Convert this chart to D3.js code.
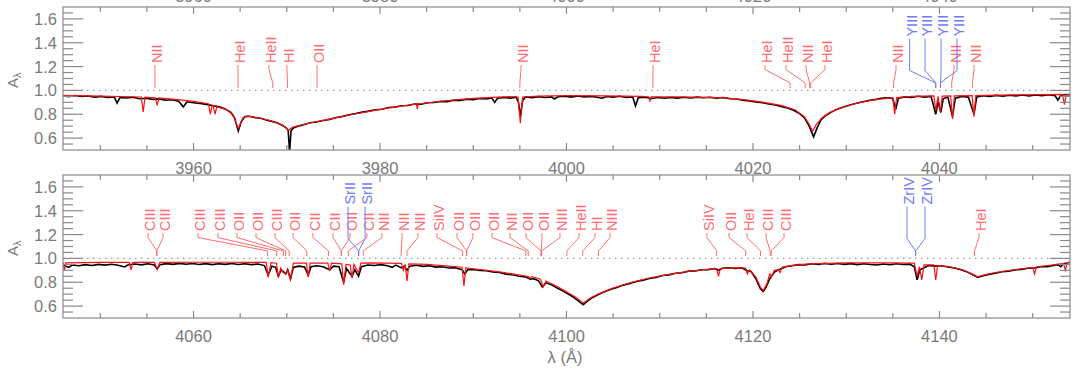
<!DOCTYPE html>
<html>
<head>
<meta charset="utf-8">
<script src="https://cdn.jsdelivr.net/npm/d3@7"></script>
<style>
body { margin: 0; background: #fff; }
svg { display: block; font-family: "Liberation Sans", Arial, sans-serif; }
</style>
</head>
<body>
<svg id="chart" width="1077" height="369"></svg>
<script>
// wavelength ranges and tick labels of the two panels
var topDomain = [3946, 4054]
var botDomain = [4046, 4154]
var topTicks = [3960, 3980, 4000, 4020, 4040]
var botTicks = [4060, 4080, 4100, 4120, 4140]
var yTicks = [0.6, 0.8, 1.0, 1.2, 1.4, 1.6]

// observed spectrum (black), [lambda, A]
var topObs = [[3946.0,0.955],[3946.6,0.948],[3947.3,0.957],[3948.0,0.950],[3948.7,0.953],[3949.4,0.944],[3950.1,0.950],[3950.8,0.941],[3951.5,0.945],[3951.8,0.893],[3952.1,0.940],[3952.8,0.936],[3953.5,0.942],[3954.2,0.930],[3954.9,0.934],[3955.6,0.925],[3956.3,0.929],[3957.0,0.918],[3957.7,0.922],[3958.4,0.910],[3958.9,0.862],[3959.3,0.905],[3960.0,0.897],[3960.7,0.890],[3961.4,0.883],[3962.1,0.872],[3962.8,0.862],[3963.4,0.845],[3964.0,0.815],[3964.4,0.770],[3964.8,0.660],[3965.1,0.735],[3965.5,0.780],[3966.0,0.783],[3966.6,0.772],[3967.2,0.766],[3967.8,0.752],[3968.4,0.740],[3969.0,0.727],[3969.5,0.708],[3969.9,0.688],[3970.15,0.665],[3970.3,0.480],[3970.45,0.660],[3970.7,0.685],[3971.2,0.700],[3971.8,0.712],[3972.5,0.728],[3973.2,0.735],[3973.9,0.748],[3974.6,0.757],[3975.3,0.772],[3976.0,0.782],[3976.7,0.796],[3977.4,0.806],[3978.1,0.818],[3978.8,0.826],[3979.5,0.838],[3980.2,0.842],[3980.9,0.856],[3981.6,0.860],[3982.3,0.871],[3983.0,0.874],[3983.7,0.886],[3984.4,0.884],[3985.1,0.897],[3985.8,0.898],[3986.5,0.908],[3987.2,0.905],[3987.9,0.918],[3988.6,0.916],[3989.3,0.926],[3990.0,0.922],[3990.7,0.932],[3991.4,0.928],[3992.0,0.936],[3992.3,0.900],[3992.6,0.934],[3993.3,0.940],[3994.0,0.935],[3994.6,0.944],[3994.85,0.900],[3995.05,0.785],[3995.3,0.915],[3995.6,0.945],[3996.3,0.938],[3997.0,0.948],[3997.7,0.941],[3998.4,0.946],[3998.7,0.928],[3999.1,0.947],[3999.8,0.951],[4000.5,0.944],[4001.2,0.953],[4001.9,0.946],[4002.6,0.950],[4003.3,0.943],[4003.8,0.934],[4004.3,0.949],[4005.0,0.944],[4005.7,0.951],[4006.4,0.942],[4007.1,0.946],[4007.4,0.870],[4007.7,0.938],[4008.4,0.943],[4009.1,0.932],[4009.8,0.940],[4010.5,0.934],[4011.2,0.941],[4011.9,0.935],[4012.6,0.942],[4013.3,0.937],[4014.0,0.944],[4014.7,0.938],[4015.4,0.943],[4016.1,0.935],[4016.8,0.940],[4017.5,0.930],[4018.2,0.928],[4018.9,0.918],[4019.6,0.912],[4020.3,0.904],[4021.0,0.897],[4021.7,0.886],[4022.4,0.878],[4023.1,0.864],[4023.8,0.850],[4024.4,0.832],[4025.0,0.806],[4025.5,0.772],[4026.0,0.705],[4026.5,0.610],[4026.9,0.690],[4027.3,0.752],[4027.8,0.790],[4028.4,0.818],[4029.0,0.842],[4029.7,0.860],[4030.4,0.878],[4031.1,0.893],[4031.8,0.905],[4032.5,0.918],[4033.2,0.925],[4033.9,0.936],[4034.6,0.938],[4035.0,0.930],[4035.3,0.840],[4035.6,0.935],[4036.3,0.946],[4037.0,0.942],[4037.7,0.951],[4038.4,0.944],[4039.1,0.950],[4039.6,0.800],[4039.85,0.905],[4040.15,0.815],[4040.4,0.930],[4040.9,0.945],[4041.4,0.780],[4041.7,0.935],[4042.4,0.950],[4043.1,0.944],[4043.7,0.800],[4044.0,0.945],[4044.7,0.955],[4045.4,0.950],[4046.1,0.958],[4046.8,0.952],[4047.5,0.960],[4048.2,0.954],[4048.9,0.961],[4049.6,0.953],[4050.3,0.962],[4051.0,0.956],[4051.7,0.963],[4052.4,0.955],[4052.7,0.918],[4053.0,0.958],[4053.5,0.966],[4054.0,0.962]]
var botObs = [[4046.0,0.955],[4046.3,0.935],[4046.6,0.925],[4047.0,0.945],[4047.7,0.938],[4048.4,0.948],[4049.1,0.941],[4049.8,0.950],[4050.5,0.944],[4051.2,0.951],[4051.9,0.943],[4052.6,0.928],[4053.0,0.947],[4053.7,0.953],[4054.4,0.946],[4055.1,0.955],[4055.8,0.945],[4056.1,0.910],[4056.4,0.948],[4057.1,0.956],[4057.8,0.950],[4058.5,0.958],[4059.2,0.951],[4059.9,0.957],[4060.6,0.949],[4061.3,0.956],[4062.0,0.948],[4062.7,0.955],[4063.4,0.950],[4064.1,0.957],[4064.8,0.949],[4065.5,0.955],[4066.2,0.948],[4066.9,0.953],[4067.6,0.940],[4068.0,0.860],[4068.4,0.935],[4068.8,0.925],[4069.1,0.850],[4069.4,0.905],[4069.9,0.870],[4070.1,0.905],[4070.4,0.830],[4070.7,0.925],[4071.3,0.935],[4071.9,0.928],[4072.3,0.860],[4072.6,0.930],[4073.2,0.938],[4073.9,0.930],[4074.6,0.905],[4075.0,0.935],[4075.6,0.930],[4076.1,0.800],[4076.4,0.915],[4077.0,0.850],[4077.3,0.905],[4077.7,0.850],[4078.0,0.930],[4078.7,0.945],[4079.4,0.940],[4080.1,0.948],[4080.8,0.938],[4081.3,0.925],[4081.7,0.944],[4082.3,0.920],[4082.6,0.935],[4082.9,0.900],[4083.2,0.935],[4083.9,0.942],[4084.6,0.933],[4085.3,0.938],[4086.0,0.927],[4086.7,0.930],[4087.4,0.920],[4088.1,0.922],[4088.8,0.905],[4089.1,0.870],[4089.4,0.905],[4090.0,0.907],[4090.7,0.898],[4091.4,0.897],[4092.1,0.886],[4092.8,0.882],[4093.5,0.868],[4094.2,0.863],[4094.9,0.850],[4095.6,0.845],[4096.1,0.825],[4096.5,0.830],[4097.0,0.812],[4097.4,0.760],[4097.8,0.795],[4098.4,0.778],[4099.0,0.752],[4099.6,0.728],[4100.2,0.700],[4100.8,0.672],[4101.3,0.642],[4101.8,0.612],[4102.2,0.640],[4102.7,0.668],[4103.3,0.692],[4104.0,0.718],[4104.7,0.740],[4105.4,0.757],[4106.1,0.776],[4106.8,0.790],[4107.5,0.806],[4108.2,0.818],[4108.9,0.832],[4109.6,0.840],[4110.3,0.856],[4111.0,0.862],[4111.7,0.876],[4112.4,0.880],[4113.1,0.893],[4113.8,0.895],[4114.5,0.905],[4115.2,0.906],[4115.9,0.915],[4116.3,0.900],[4116.7,0.918],[4117.4,0.922],[4118.1,0.916],[4118.8,0.921],[4119.4,0.895],[4119.8,0.890],[4120.3,0.830],[4120.8,0.745],[4121.1,0.722],[4121.4,0.760],[4121.8,0.830],[4122.3,0.885],[4122.9,0.910],[4123.5,0.930],[4124.2,0.938],[4124.9,0.948],[4125.6,0.946],[4126.3,0.955],[4127.0,0.950],[4127.7,0.958],[4128.4,0.951],[4129.1,0.957],[4129.8,0.950],[4130.5,0.956],[4131.2,0.948],[4131.9,0.955],[4132.6,0.949],[4133.3,0.945],[4134.0,0.953],[4134.7,0.947],[4135.4,0.955],[4136.1,0.949],[4136.8,0.952],[4137.3,0.930],[4137.6,0.820],[4137.9,0.905],[4138.3,0.920],[4138.8,0.940],[4139.5,0.935],[4140.2,0.938],[4140.9,0.928],[4141.6,0.920],[4142.3,0.905],[4143.0,0.885],[4143.6,0.862],[4144.1,0.840],[4144.6,0.852],[4145.3,0.866],[4146.0,0.875],[4146.7,0.888],[4147.4,0.893],[4148.1,0.904],[4148.8,0.908],[4149.5,0.918],[4150.2,0.920],[4150.9,0.931],[4151.6,0.930],[4152.3,0.942],[4152.7,0.948],[4153.0,0.930],[4153.3,0.955],[4153.7,0.962],[4154.0,0.968]]

// model spectrum (red), [lambda, A]
var topMod = [[3946.0,0.958],[3950.0,0.952],[3954.4,0.945],[3954.6,0.820],[3954.8,0.944],[3955.9,0.938],[3956.1,0.875],[3956.3,0.937],[3958.0,0.925],[3960.0,0.908],[3961.6,0.888],[3961.8,0.800],[3962.0,0.875],[3962.1,0.875],[3962.3,0.800],[3962.5,0.862],[3963.5,0.840],[3964.2,0.800],[3964.8,0.680],[3965.3,0.770],[3965.8,0.785],[3967.0,0.770],[3968.0,0.752],[3969.0,0.728],[3969.8,0.695],[3970.2,0.665],[3970.6,0.690],[3971.5,0.710],[3973.0,0.735],[3975.0,0.765],[3977.0,0.798],[3979.0,0.826],[3981.0,0.853],[3983.0,0.876],[3983.9,0.885],[3984.0,0.845],[3984.1,0.886],[3986.0,0.905],[3988.0,0.920],[3990.0,0.933],[3992.0,0.942],[3994.0,0.948],[3994.8,0.945],[3995.05,0.725],[3995.3,0.945],[3997.0,0.952],[4000.0,0.956],[4004.0,0.955],[4008.0,0.950],[4008.8,0.947],[4008.95,0.912],[4009.1,0.946],[4012.0,0.945],[4015.0,0.942],[4017.0,0.937],[4019.0,0.922],[4021.0,0.902],[4023.0,0.874],[4024.5,0.838],[4025.5,0.780],[4026.0,0.720],[4026.4,0.660],[4026.8,0.715],[4027.4,0.770],[4028.3,0.818],[4029.5,0.855],[4031.0,0.890],[4033.0,0.920],[4035.0,0.940],[4035.2,0.800],[4035.4,0.940],[4037.0,0.950],[4039.4,0.955],[4039.6,0.830],[4039.85,0.950],[4040.1,0.820],[4040.3,0.952],[4041.2,0.955],[4041.4,0.760],[4041.6,0.955],[4043.5,0.957],[4043.7,0.780],[4043.9,0.957],[4048.0,0.962],[4051.0,0.965],[4053.2,0.967],[4053.4,0.880],[4053.6,0.967],[4054.0,0.968]]
var botMod = [[4046.0,0.965],[4046.15,0.900],[4046.3,0.962],[4050.0,0.966],[4053.1,0.966],[4053.3,0.905],[4053.5,0.966],[4055.8,0.966],[4056.1,0.912],[4056.4,0.966],[4060.0,0.968],[4064.0,0.968],[4067.8,0.967],[4068.0,0.840],[4068.3,0.965],[4068.9,0.960],[4069.1,0.840],[4069.35,0.920],[4069.6,0.880],[4069.9,0.875],[4070.1,0.900],[4070.4,0.815],[4070.7,0.960],[4072.1,0.960],[4072.3,0.840],[4072.5,0.960],[4074.4,0.960],[4074.6,0.895],[4074.8,0.960],[4075.9,0.955],[4076.1,0.780],[4076.35,0.950],[4076.8,0.945],[4077.0,0.835],[4077.2,0.950],[4077.7,0.880],[4077.95,0.960],[4079.0,0.962],[4082.3,0.958],[4082.5,0.900],[4082.7,0.950],[4082.9,0.810],[4083.1,0.955],[4085.0,0.950],[4087.0,0.938],[4088.8,0.926],[4089.0,0.770],[4089.2,0.920],[4091.0,0.905],[4093.0,0.885],[4095.0,0.860],[4095.9,0.848],[4096.1,0.835],[4096.3,0.846],[4097.2,0.825],[4097.5,0.760],[4097.8,0.810],[4099.0,0.765],[4100.0,0.720],[4101.0,0.675],[4101.8,0.625],[4102.6,0.670],[4103.5,0.705],[4105.0,0.752],[4107.0,0.800],[4109.0,0.838],[4111.0,0.866],[4113.0,0.890],[4115.0,0.908],[4116.1,0.914],[4116.3,0.850],[4116.5,0.915],[4118.5,0.922],[4119.2,0.918],[4119.4,0.870],[4119.6,0.905],[4120.3,0.845],[4120.8,0.760],[4121.1,0.730],[4121.5,0.790],[4121.8,0.870],[4122.0,0.850],[4122.3,0.900],[4122.7,0.905],[4122.9,0.880],[4123.1,0.925],[4124.0,0.940],[4126.0,0.955],[4130.0,0.962],[4134.0,0.963],[4137.3,0.960],[4137.6,0.850],[4137.85,0.930],[4138.1,0.820],[4138.35,0.945],[4139.4,0.945],[4139.6,0.820],[4139.8,0.940],[4141.0,0.932],[4142.5,0.905],[4143.5,0.872],[4144.1,0.845],[4144.8,0.862],[4146.0,0.882],[4148.0,0.905],[4150.0,0.925],[4150.2,0.870],[4150.4,0.928],[4152.0,0.945],[4153.3,0.958],[4153.5,0.900],[4153.7,0.962],[4154.0,0.970]]

// line identifications: [ion, label lambda, line lambda, colour r/b]
var topLabels = [["NII",3955.87,3955.87,"r"],["HeI",3964.77,3964.77,"r"],["HeII",3968.09,3968.5,"r"],["HI",3970.02,3970.07,"r"],["OII",3973.24,3973.24,"r"],["NII",3995.12,3995.0,"r"],["HeI",4009.28,4009.26,"r"],["HeI",4021.29,4023.98,"r"],["HeII",4023.54,4025.6,"r"],["NII",4025.69,4026.08,"r"],["HeI",4027.72,4026.19,"r"],["NII",4035.34,4035.08,"r"],["NII",4041.56,4041.31,"r"],["NII",4043.71,4043.53,"r"],["YIII",4036.8,4039.6,"b"],["YIII",4038.45,4039.6,"b"],["YIII",4040.17,4040.11,"b"],["YIII",4041.88,4040.11,"b"]]
var botLabels = [["CIII",4055.12,4056.06,"r"],["CIII",4056.73,4056.06,"r"],["CIII",4060.48,4067.94,"r"],["CIII",4062.62,4068.92,"r"],["OII",4064.66,4069.62,"r"],["OII",4066.70,4069.88,"r"],["CIII",4068.74,4070.26,"r"],["OII",4070.67,4072.15,"r"],["CII",4072.81,4074.48,"r"],["CII",4074.96,4075.85,"r"],["OII",4076.78,4075.86,"r"],["CII",4078.6,4076.6,"r"],["NII",4080.2,4078.2,"r"],["NII",4082.36,4082.27,"r"],["NII",4084.07,4082.89,"r"],["SiIV",4086.11,4088.86,"r"],["OII",4088.26,4089.29,"r"],["OII",4089.97,4089.29,"r"],["OII",4092.01,4095.64,"r"],["NII",4093.94,4095.9,"r"],["OII",4095.66,4097.26,"r"],["OII",4097.37,4097.3,"r"],["NIII",4099.3,4097.33,"r"],["HeII",4101.34,4100.04,"r"],["HI",4103.06,4101.74,"r"],["NIII",4104.67,4103.43,"r"],["SiIV",4115.07,4116.10,"r"],["OII",4117.43,4119.22,"r"],["HeI",4119.36,4120.81,"r"],["CIII",4121.40,4121.85,"r"],["CIII",4123.33,4121.95,"r"],["HeI",4144.24,4143.76,"r"],["SrII",4076.57,4077.71,"b"],["SrII",4078.4,4077.71,"b"],["ZrIV",4136.52,4137.44,"b"],["ZrIV",4138.45,4137.44,"b"]]

var width = 1077, height = 369
var margin = {left: 63, right: 7}
var axisCol = "#8a8a8a", textCol = "#7a7a7a"
var redLab = "#ff6e6e", blueLab = "#6e7cff"
// connector heights in units of A
var lay = {redText: 1.23, redKnee1: 1.175, blueText: 1.452, blueKnee1: 1.167, knee2: 1.063, end: 1.02}

var svg = d3.select("#chart")

var panels = [
    {top: 7, bottom: 150, domain: topDomain, ticks: topTicks, obs: topObs, mod: topMod, labels: topLabels},
    {top: 175, bottom: 318, domain: botDomain, ticks: botTicks, obs: botObs, mod: botMod, labels: botLabels}
]

panels.forEach(function(p, i) {
    var x = d3.scaleLinear().domain(p.domain).range([margin.left, width - margin.right])
    var y = d3.scaleLinear().domain([0.5, 1.7]).range([p.bottom, p.top])
    var g = svg.append("g")

    g.append("clipPath").attr("id", "clip" + i)
      .append("rect").attr("x", x.range()[0]).attr("y", p.top)
      .attr("width", x.range()[1] - x.range()[0]).attr("height", p.bottom - p.top)

    // continuum level
    g.append("line").attr("x1", x.range()[0]).attr("x2", x.range()[1])
      .attr("y1", y(1)).attr("y2", y(1))
      .attr("stroke", "#999").attr("stroke-width", 1.2).attr("stroke-dasharray", "1.5,4.5")

    var line = d3.line().x(function(d) { return x(d[0]) }).y(function(d) { return y(d[1]) })
    var spec = g.append("g").attr("clip-path", "url(#clip" + i + ")")
    spec.append("path").datum(p.obs).attr("d", line)
      .attr("fill", "none").attr("stroke", "#000").attr("stroke-width", 1.6)
    spec.append("path").datum(p.mod).attr("d", line)
      .attr("fill", "none").attr("stroke", "#ff1010").attr("stroke-width", 1.2)

    // line labels
    p.labels.forEach(function(d) {
        var blue = d[3] == "b"
        var col = blue ? blueLab : redLab
        var xl = x(d[1]), xe = x(d[2])
        var yt = y(blue ? lay.blueText : lay.redText)
        var pts = [[xl, yt + 2], [xl, y(blue ? lay.blueKnee1 : lay.redKnee1)], [xe, y(lay.knee2)], [xe, y(lay.end)]]
        g.append("path").attr("d", d3.line()(pts))
          .attr("fill", "none").attr("stroke", col).attr("stroke-width", 1)
        g.append("text")
          .attr("transform", "translate(" + (xl + 7) + "," + yt + ") rotate(-90)")
          .attr("fill", col).style("font-size", "14.5px")
          .text(d[0])
    })

    // frame
    g.append("rect").attr("x", x.range()[0]).attr("y", p.top)
      .attr("width", x.range()[1] - x.range()[0]).attr("height", p.bottom - p.top)
      .attr("fill", "none").attr("stroke", axisCol).attr("stroke-width", 1.2)

    // x ticks (major 20, minor 5) top and bottom
    var minorX = d3.range(Math.ceil(p.domain[0] / 5) * 5, p.domain[1], 5)
    minorX.forEach(function(v) {
        var len = (v % 20 == 0) ? 7 : 5
        g.append("line").attr("x1", x(v)).attr("x2", x(v)).attr("y1", p.bottom).attr("y2", p.bottom - len)
          .attr("stroke", axisCol).attr("stroke-width", 1.2)
        g.append("line").attr("x1", x(v)).attr("x2", x(v)).attr("y1", p.top).attr("y2", p.top + len)
          .attr("stroke", axisCol).attr("stroke-width", 1.2)
    })
    p.ticks.forEach(function(v) {
        g.append("text").attr("x", x(v)).attr("y", p.bottom + 24)
          .attr("text-anchor", "middle").attr("fill", textCol).style("font-size", "16.5px")
          .text(v)
        // labels of the panel above, cut off by the page edge as in the original
        if (i == 0) {
            g.append("text").attr("x", x(v)).attr("y", p.top - 5)
              .attr("text-anchor", "middle").attr("fill", textCol).style("font-size", "16.5px")
              .text(v)
        }
    })

    // y ticks (major 0.2, minor 0.05) left and right
    var minorY = d3.range(11, 34).map(function(k) { return k * 0.05 })
    minorY.forEach(function(v) {
        var major = yTicks.some(function(t) { return Math.abs(t - v) < 1e-6 })
        var len = major ? 20 : 10
        g.append("line").attr("x1", x.range()[0]).attr("x2", x.range()[0] + len).attr("y1", y(v)).attr("y2", y(v))
          .attr("stroke", axisCol).attr("stroke-width", 1.2)
        g.append("line").attr("x1", x.range()[1]).attr("x2", x.range()[1] - len).attr("y1", y(v)).attr("y2", y(v))
          .attr("stroke", axisCol).attr("stroke-width", 1.2)
    })
    yTicks.forEach(function(v) {
        g.append("text").attr("x", x.range()[0] - 6).attr("y", y(v)).attr("dy", "0.36em")
          .attr("text-anchor", "end").attr("fill", textCol).style("font-size", "16.5px")
          .text(v.toFixed(1))
    })

    // y axis title A_lambda
    var yl = g.append("text").attr("transform", "translate(18," + (p.top + 81) + ") rotate(-90)")
      .attr("fill", textCol).style("font-size", "15px")
    yl.append("tspan").text("A")
    yl.append("tspan").attr("dy", 3).style("font-size", "11px").text("λ")
})

svg.append("text").attr("x", 565).attr("y", 363).attr("text-anchor", "middle")
  .attr("fill", textCol).style("font-size", "16.5px").text("λ (Å)")
</script>
</body>
</html>
